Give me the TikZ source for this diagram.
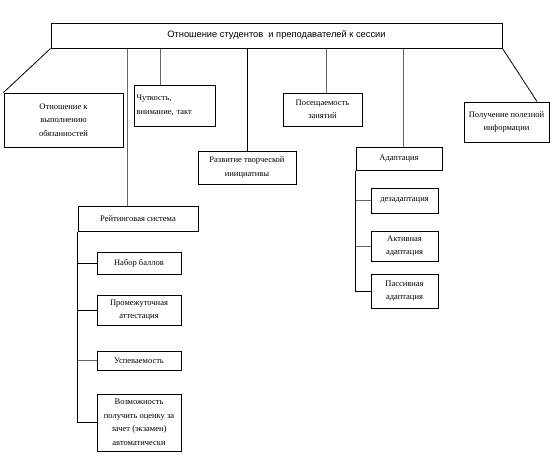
\documentclass[tikz,border=0pt]{standalone}
\usepackage{fontspec}
\setmainfont{Liberation Serif}
\newfontfamily\topfont{Liberation Sans}
\begin{document}
\begin{tikzpicture}[x=1pt,y=-1pt,
  box/.style={draw, line width=1pt, inner sep=1.5pt, align=center, font=\fontsize{8.5}{13.5}\selectfont},
  conn/.style={line width=0.8pt, black},
  gconn/.style={line width=1pt, gray!80!black}]
\useasboundingbox (0,0) rectangle (554,469);
\node[box, minimum width=451pt, minimum height=25pt, font=\topfont\fontsize{9.3}{11}\selectfont] (top) at (276.5,35.5) {Отношение студентов \ и преподавателей к сессии};
\node[box, minimum width=119pt, minimum height=54pt] (otn) at (63.5,120) {Отношение к\\выполнению\\обязанностей};
\node[box, minimum width=81pt, minimum height=41pt, text width=76pt, align=left] (chut) at (174.5,105.5) {Чуткость,\\внимание, такт};
\node[box, minimum width=79pt, minimum height=33pt] (pos) at (322.5,109.5) {Посещаемость\\занятий};
\node[box, minimum width=85pt, minimum height=40pt] (pol) at (506.5,122) {Получение полезной\\информации};
\node[box, minimum width=98pt, minimum height=33pt] (raz) at (247,167.5) {Развитие творческой\\инициативы};
\node[box, minimum width=120pt, minimum height=25pt] (rei) at (138,218.5) {Рейтинговая система};
\node[box, minimum width=84pt, minimum height=22pt] (nab) at (139,263) {Набор баллов};
\node[box, minimum width=84pt, minimum height=30pt] (pro) at (139,310) {Промежуточная\\аттестация};
\node[box, minimum width=84pt, minimum height=19pt] (usp) at (139,360.5) {Успеваемость};
\node[box, minimum width=84pt, minimum height=57pt] (voz) at (139,422.5) {Возможность\\получить оценку за\\зачет (экзамен)\\автоматически};
\node[box, minimum width=86pt, minimum height=23pt] (ada) at (399,158.5) {Адаптация};
\node[box, minimum width=67pt, minimum height=25pt] (dez) at (404.5,200.5) {дезадаптация};
\node[box, minimum width=67pt, minimum height=30pt] (akt) at (404.5,246) {Активная\\адаптация};
\node[box, minimum width=67pt, minimum height=34pt] (pas) at (404.5,291) {Пассивная\\адаптация};
\coordinate (c1) at (127,0);
\coordinate (c2) at (160,0);
\coordinate (c4) at (326,0);
\coordinate (c5) at (403,0);
\coordinate (c6) at (537,0);
% top connectors
\draw[conn] (top.south west) -- (otn.north west);
\draw[gconn] (top.south -| c1) -- (rei.north -| c1);
\draw[gconn] (top.south -| c2) -- (chut.north -| c2);
\draw[conn] (top.south -| raz.north) -- (raz.north);
\draw[gconn] (top.south -| c4) -- (pos.north -| c4);
\draw[gconn] (top.south -| c5) -- (ada.north -| c5);
\draw[conn] (top.south east) -- (pol.north -| c6);
% rating spine
\draw[conn] (rei.south west) |- (voz.west);
\draw[conn] (nab.west -| rei.west) -- (nab.west);
\draw[conn] (pro.west -| rei.west) -- (pro.west);
\draw[gconn] (usp.west -| rei.west) -- (usp.west);
% adaptation spine
\draw[conn] (ada.south west) |- (pas.west);
\draw[gconn] (dez.west -| ada.west) -- (dez.west);
\draw[gconn] (akt.west -| ada.west) -- (akt.west);
\end{tikzpicture}
\end{document}
